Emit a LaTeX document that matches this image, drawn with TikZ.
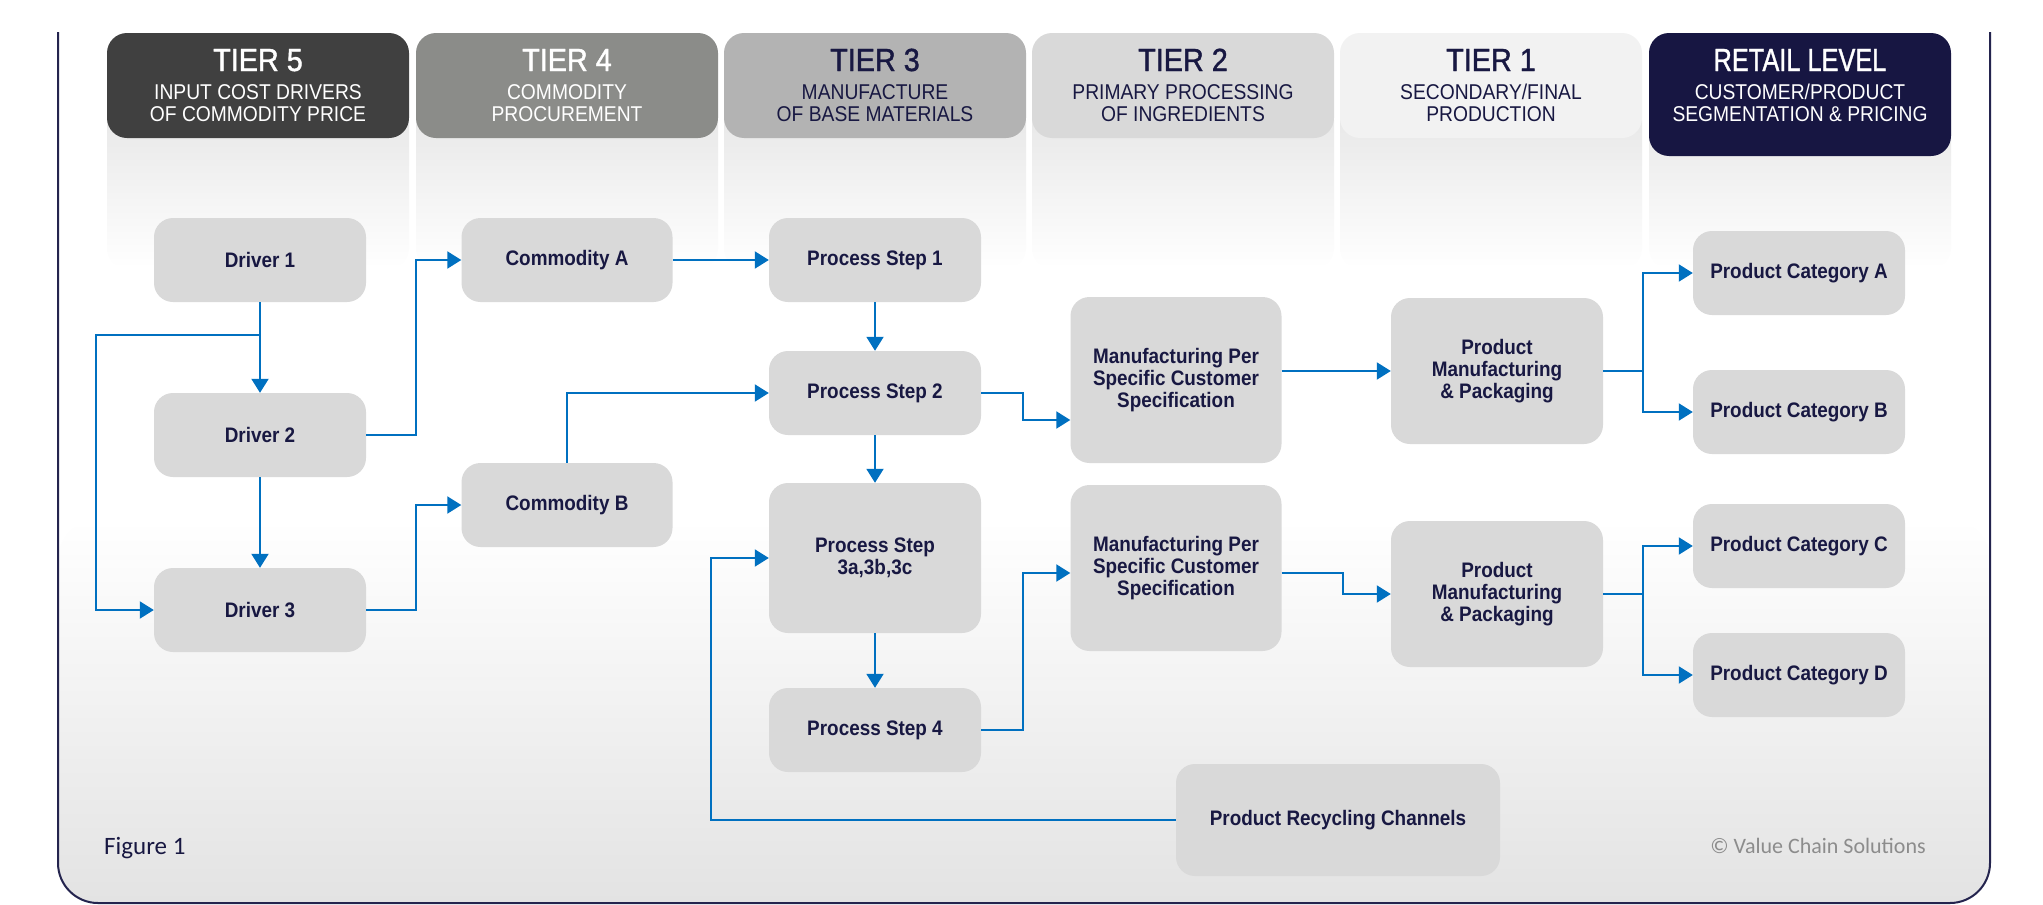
\documentclass[tikz,border=0pt]{standalone}
\usepackage{fontspec}
\setmainfont{Liberation Sans}[FakeStretch=0.9]
\newfontfamily\medfont{Liberation Sans}[FakeStretch=0.9, FakeBold=1.2]
\newfontfamily\capfont{Carlito}
\usepackage{graphicx}
\usetikzlibrary{arrows.meta}
\definecolor{navy}{HTML}{181842}
\definecolor{arrowblue}{HTML}{0070C0}
\definecolor{boxgray}{HTML}{D9D9D9}
\definecolor{hfive}{HTML}{404040}
\definecolor{hfour}{HTML}{8B8C89}
\definecolor{hthree}{HTML}{B3B3B3}
\definecolor{htwo}{HTML}{D9D9D9}
\definecolor{hone}{HTML}{F2F2F2}
\definecolor{hretail}{HTML}{171642}
\definecolor{framecol}{HTML}{24244E}
\definecolor{copygray}{HTML}{8C8C8C}
\begin{document}
\begin{tikzpicture}[x=1pt,y=-1pt,
  box/.style n args={2}{fill=boxgray, rounded corners=19pt, text=navy,
    font=\bfseries\fontsize{21}{22}\selectfont, align=center, inner sep=0pt,
    minimum width=#1, minimum height=#2},
  hdr/.style n args={2}{fill=#1, rounded corners=20pt, inner sep=0pt,
    minimum width=302pt, minimum height=#2},
  htitle/.style={font=\medfont\fontsize{32}{36}\selectfont, anchor=base, inner sep=0pt},
  hsub/.style={font=\fontsize{21.4}{22}\selectfont, anchor=base, inner sep=0pt},
  colfade/.style={top color=black!10, bottom color=white, rounded corners=20pt},
  arr/.style={draw=arrowblue, line width=2pt, -{Triangle[length=14pt,width=17pt]}},
  conn/.style={draw=arrowblue, line width=2pt},
  frame/.style={draw=framecol, line width=2pt, rounded corners=40pt}
]
\useasboundingbox[fill=white] (0,0) rectangle (2043,905);
% background gradient
\shade[top color=white, bottom color=black!11, rounded corners=40pt]
  (58,520) -- (58,903) -- (1990,903) -- (1990,520) -- cycle;
% column fades
\foreach \c in {258,567,875,1183,1491,1800}{
  \shade[colfade] (\c-151,100) rectangle (\c+151,268);
}
% headers
\node[hdr={hfive}{105pt}] (h5) at (258,85.5) {};
\node[hdr={hfour}{105pt}] (h4) at (567,85.5) {};
\node[hdr={hthree}{105pt}] (h3) at (875,85.5) {};
\node[hdr={htwo}{105pt}] (h2) at (1183,85.5) {};
\node[hdr={hone}{105pt}] (h1) at (1491,85.5) {};
\node[hdr={hretail}{123pt}] (hr) at (1800,94.5) {};

\node[htitle, text=white] (h5t) at (258,71) {TIER 5};
\node[hsub, text=white] (h5a) at (258,99) {INPUT COST DRIVERS};
\node[hsub, text=white] (h5b) at (258,121) {OF COMMODITY PRICE};
\node[htitle, text=white] (h4t) at (567,71) {TIER 4};
\node[hsub, text=white] (h4a) at (567,99) {COMMODITY};
\node[hsub, text=white] (h4b) at (567,121) {PROCUREMENT};
\node[htitle, text=navy] (h3t) at (875,71) {TIER 3};
\node[hsub, text=navy] (h3a) at (875,99) {MANUFACTURE};
\node[hsub, text=navy] (h3b) at (875,121) {OF BASE MATERIALS};
\node[htitle, text=navy] (h2t) at (1183,71) {TIER 2};
\node[hsub, text=navy] (h2a) at (1183,99) {PRIMARY PROCESSING};
\node[hsub, text=navy] (h2b) at (1183,121) {OF INGREDIENTS};
\node[htitle, text=navy] (h1t) at (1491,71) {TIER 1};
\node[hsub, text=navy] (h1a) at (1491,99) {SECONDARY/FINAL};
\node[hsub, text=navy] (h1b) at (1491,121) {PRODUCTION};
\node[htitle, text=white] (hrt) at (1800,71) {\scalebox{0.88}[1]{RETAIL LEVEL}};
\node[hsub, text=white] (hra) at (1800,99) {CUSTOMER/PRODUCT};
\node[hsub, text=white] (hrb) at (1800,121) {SEGMENTATION \& PRICING};

% boxes
\node[box={212pt}{84pt}] (d1) at (260,260) {Driver 1};
\node[box={212pt}{84pt}] (d2) at (260,435) {Driver 2};
\node[box={212pt}{84pt}] (d3) at (260,610) {Driver 3};
\node[box={211pt}{84pt}] (ca) at (567,260) {Commodity A};
\node[box={211pt}{84pt}] (cb) at (567,505) {Commodity B};
\node[box={212pt}{84pt}] (p1) at (875,260) {Process Step 1};
\node[box={212pt}{84pt}] (p2) at (875,393) {Process Step 2};
\node[box={212pt}{150pt}] (p3) at (875,558) {Process Step\\3a,3b,3c};
\node[box={212pt}{84pt}] (p4) at (875,730) {Process Step 4};
\node[box={211pt}{166pt}] (m1) at (1176,380) {Manufacturing Per\\Specific Customer\\Specification};
\node[box={211pt}{166pt}] (m2) at (1176,568) {Manufacturing Per\\Specific Customer\\Specification};
\node[box={212pt}{146pt}] (pm1) at (1497,371) {Product\\Manufacturing\\\& Packaging};
\node[box={212pt}{146pt}] (pm2) at (1497,594) {Product\\Manufacturing\\\& Packaging};
\node[box={212pt}{84pt}] (ka) at (1799,273) {Product Category A};
\node[box={212pt}{84pt}] (kb) at (1799,412) {Product Category B};
\node[box={212pt}{84pt}] (kc) at (1799,546) {Product Category C};
\node[box={212pt}{84pt}] (kd) at (1799,675) {Product Category D};
\node[box={324pt}{112pt}] (rc) at (1338,820) {Product Recycling Channels};

% connectors
\coordinate (j1) at (260,335);
\draw[arr] (d1) -- (d2);
\draw[arr] (j1) -- (96,335) |- (d3.west);
\draw[arr] (d2) -- (d3);
\draw[arr] (d2.east) -- (416,435) |- (ca.west);
\draw[arr] (d3.east) -- (416,610) |- (cb.west);
\draw[arr] (ca) -- (p1);
\draw[arr] (cb.north) |- (p2.west);
\draw[arr] (p1) -- (p2);
\draw[arr] (p2) -- (p3);
\draw[arr] (p3) -- (p4);
\draw[arr] (p2.east) -- (1023,393) |- ([yshift=-40pt]m1.west);
\draw[arr] (p4.east) -- (1023,730) |- ([yshift=-5pt]m2.west);
\draw[arr] (m1.east |- pm1.west) -- (pm1.west);
\draw[arr] ([yshift=-5pt]m2.east) -- (1343,573) |- (pm2.west);
\coordinate (s1) at (1643,371);
\coordinate (s2) at (1643,594);
\draw[conn] (pm1.east) -- (s1);
\draw[arr] (s1) |- (ka.west);
\draw[arr] (s1) |- (kb.west);
\draw[conn] (pm2.east) -- (s2);
\draw[arr] (s2) |- (kc.west);
\draw[arr] (s2) |- (kd.west);
\draw[arr] (rc.west) -- (711,820) |- (p3.west);

% footer texts
\node[font=\capfont\fontsize{25}{28}\selectfont, text=navy, anchor=base west, inner sep=0pt] (fig) at (104,854) {Figure 1};
\node[font=\capfont\fontsize{22}{26}\selectfont, text=copygray, anchor=base east, inner sep=0pt] (copy) at (1926,853) {© Value Chain Solutions};

% frame
\draw[frame] (58,32) -- (58,903) -- (1990,903) -- (1990,32);
\end{tikzpicture}
\end{document}
